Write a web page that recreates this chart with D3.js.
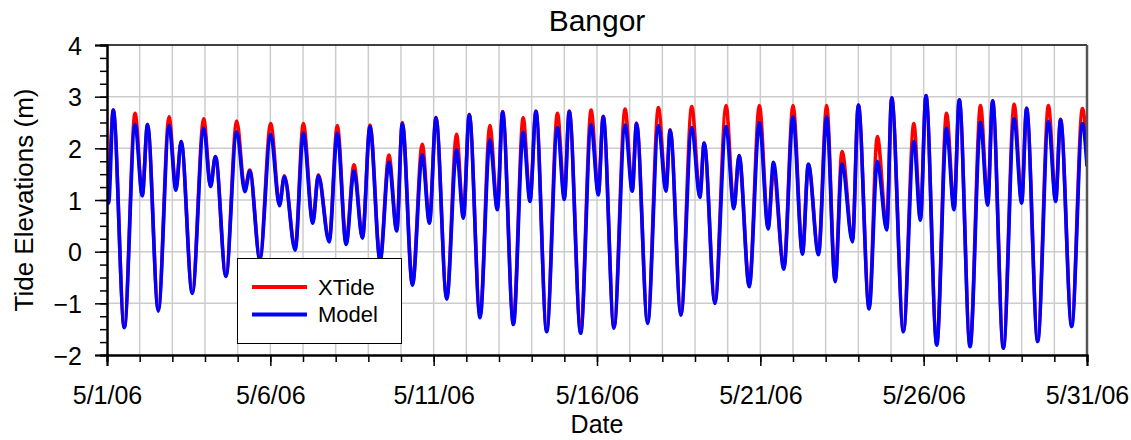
<!DOCTYPE html>
<html><head><meta charset="utf-8">
<script src="https://cdn.jsdelivr.net/npm/d3@7/dist/d3.min.js"></script>
<style>
body{margin:0;background:#fff;}
text{font-family:"Liberation Sans",Arial,sans-serif;fill:#000;}
</style></head>
<body><svg id="c" width="1131" height="440"></svg>
<script>
// Extreme points (days after 5/1/06 00:00)
const dayOffsets = [0.00,0.05,0.19,0.53,0.86,1.08,1.24,1.57,1.90,2.11,2.27,2.61,2.96,3.17,3.32,3.64,3.97,4.22,4.37,4.68,5.01,5.28,5.43,5.76,6.01,6.30,6.47,6.80,7.05,7.32,7.56,7.82,8.05,8.36,8.63,8.87,9.04,9.35,9.65,9.87,10.07,10.40,10.70,10.91,11.09,11.42,11.72,11.95,12.11,12.44,12.74,12.95,13.13,13.46,13.79,14.00,14.15,14.50,14.82,15.04,15.19,15.52,15.86,16.08,16.21,16.55,16.88,17.11,17.24,17.57,17.90,18.15,18.28,18.61,18.95,19.19,19.35,19.66,19.97,20.24,20.40,20.72,21.00,21.29,21.47,21.78,22.03,22.29,22.50,22.82,23.00,23.33,23.58,23.87,24.02,24.38,24.70,24.90,25.07,25.40,25.70,25.93,26.09,26.42,26.74,26.96,27.11,27.44,27.77,28.00,28.15,28.49,28.82,29.04,29.19,29.53,29.86,30.00];
const modelValues = [1.29,0.94,2.74,-1.47,2.46,1.08,2.46,-1.15,2.44,1.19,2.13,-0.81,2.39,1.26,1.84,-0.48,2.32,1.16,1.56,-0.15,2.27,0.89,1.45,0.03,2.29,0.55,1.47,0.19,2.29,0.14,1.56,0.26,2.42,-0.18,1.73,0.40,2.48,-0.65,1.87,0.55,2.59,-0.92,1.97,0.65,2.65,-1.28,2.16,0.81,2.70,-1.41,2.31,0.97,2.71,-1.55,2.40,1.01,2.71,-1.58,2.45,1.10,2.61,-1.48,2.45,1.17,2.48,-1.39,2.44,1.17,2.35,-1.23,2.40,1.05,2.10,-1.00,2.42,0.83,1.86,-0.68,2.50,0.44,1.73,-0.34,2.61,-0.05,1.69,-0.06,2.61,-0.58,1.70,0.19,2.84,-1.11,1.75,0.42,2.98,-1.55,2.13,0.61,3.02,-1.81,2.39,0.81,2.94,-1.84,2.50,0.90,2.92,-1.87,2.57,0.94,2.77,-1.74,2.52,0.97,2.55,-1.45,2.48,1.65];
const xtideValues = [1.62,1.45,2.74,-1.45,2.68,1.10,2.46,-1.12,2.61,1.22,2.13,-0.79,2.57,1.28,1.84,-0.47,2.53,1.20,1.58,-0.12,2.48,0.92,1.47,0.06,2.48,0.58,1.49,0.22,2.44,0.17,1.68,0.28,2.45,-0.15,1.87,0.42,2.50,-0.63,2.08,0.58,2.60,-0.90,2.27,0.68,2.66,-1.25,2.44,0.84,2.71,-1.38,2.59,1.00,2.72,-1.52,2.68,1.05,2.72,-1.55,2.74,1.14,2.62,-1.45,2.76,1.20,2.49,-1.36,2.79,1.20,2.36,-1.20,2.81,1.08,2.10,-0.97,2.83,0.86,1.86,-0.65,2.83,0.47,1.55,-0.30,2.83,-0.02,1.69,-0.02,2.83,-0.55,1.94,0.22,2.84,-1.08,2.23,0.45,2.98,-1.52,2.48,0.64,3.02,-1.78,2.68,0.84,2.94,-1.81,2.83,0.93,2.92,-1.84,2.85,0.97,2.78,-1.71,2.83,1.00,2.56,-1.42,2.77,1.90];
const seriesNames = ["XTide","Model"];
const seriesColors = ["#ff0000","#0000ff"];
const yTicks = [-2,-1,0,1,2,3,4];

const W=1131,H=440, m={l:107,t:45,r:44,b:85};
const iw=W-m.l-m.r, ih=H-m.t-m.b;
const t0 = Date.UTC(2006,4,1);
const toDate = d => new Date(t0 + d*864e5);
const FONT='"Liberation Sans",Arial,sans-serif';

const svg=d3.select("#c");
const x=d3.scaleUtc().domain([toDate(0),toDate(30)]).range([m.l,m.l+iw]);
const y=d3.scaleLinear().domain([-2,4]).range([m.t+ih,m.t]);

// grid
const g=svg.append("g");
g.selectAll("line.v").data(d3.utcDay.range(toDate(1),toDate(30))).join("line")
 .attr("x1",d=>x(d)).attr("x2",d=>x(d)).attr("y1",m.t).attr("y2",m.t+ih)
 .attr("stroke","#cccccc").attr("stroke-width",1.5);
g.selectAll("line.h").data([-1,0,1,2,3]).join("line")
 .attr("x1",m.l).attr("x2",m.l+iw).attr("y1",d=>y(d)).attr("y2",d=>y(d))
 .attr("stroke","#cccccc").attr("stroke-width",1.5);

svg.append("clipPath").attr("id","clip").append("rect")
 .attr("x",m.l).attr("y",m.t).attr("width",iw).attr("height",ih);

const line=d3.line().x(d=>x(toDate(d[0]))).y(d=>y(d[1])).curve(d3.curveMonotoneX);
const series=[xtideValues,modelValues];
series.forEach((vals,i)=>{
  svg.append("path").attr("clip-path","url(#clip)")
   .datum(dayOffsets.map((d,j)=>[d,vals[j]]))
   .attr("fill","none").attr("stroke",seriesColors[i]).attr("stroke-width",3.6)
   .attr("stroke-linejoin","round").attr("d",line);
});

// frame top/right
svg.append("line").attr("x1",m.l).attr("x2",m.l+iw).attr("y1",m.t).attr("y2",m.t).attr("stroke","#000").attr("stroke-width",1.5);
svg.append("line").attr("x1",m.l+iw).attr("x2",m.l+iw).attr("y1",m.t).attr("y2",m.t+ih).attr("stroke","#555").attr("stroke-width",2.5);

// axes
const fmt=d3.utcFormat("%-m/%-d/%y");
const xMinor=svg.append("g").attr("transform",`translate(0,${m.t+ih})`)
 .call(d3.axisBottom(x).ticks(d3.utcDay.every(1)).tickSize(7).tickFormat(""));
const xMajor=svg.append("g").attr("transform",`translate(0,${m.t+ih})`)
 .call(d3.axisBottom(x).tickValues(d3.utcDay.range(toDate(0),toDate(30.5),5)).tickSize(11).tickFormat(fmt));
const yMinor=svg.append("g").attr("transform",`translate(${m.l},0)`)
 .call(d3.axisLeft(y).tickValues(d3.range(-2,4.01,0.25)).tickSize(7).tickFormat(""));
const yMajor=svg.append("g").attr("transform",`translate(${m.l},0)`)
 .call(d3.axisLeft(y).tickValues(yTicks).tickSize(12).tickPadding(13).tickFormat(d3.format("d")));
[xMinor,xMajor,yMinor,yMajor].forEach(a=>{
  a.attr("font-size",null).attr("font-family",null);
  a.selectAll("path").attr("stroke","#000").attr("stroke-width",2);
  a.selectAll("line").attr("stroke","#000").attr("stroke-width",1.5);
  a.selectAll("text").style("font-size","25px").style("font-family",FONT);
});
xMajor.selectAll("text").attr("y",49).attr("dy",null);
yMajor.selectAll("text").attr("dy","0.36em");

// labels
svg.append("text").attr("x",m.l+iw/2).attr("y",31).attr("text-anchor","middle").style("font-size","30px").text("Bangor");
svg.append("text").attr("x",m.l+iw/2).attr("y",433).attr("text-anchor","middle").style("font-size","25px").text("Date");
svg.append("text").attr("transform",`translate(33,${m.t+ih/2}) rotate(-90)`).attr("text-anchor","middle").style("font-size","26px").text("Tide Elevations (m)");

// legend
const lg=svg.append("g");
lg.append("rect").attr("x",237.5).attr("y",258.5).attr("width",164).attr("height",85).attr("fill","#fff").attr("stroke","#000").attr("stroke-width",1);
seriesNames.forEach((n,i)=>{
  const yy=287+i*27.5;
  lg.append("line").attr("x1",252).attr("x2",307).attr("y1",yy).attr("y2",yy).attr("stroke",seriesColors[i]).attr("stroke-width",3.8);
  lg.append("text").attr("x",318).attr("y",yy).attr("dy","0.36em").style("font-size","22px").text(n);
});
</script></body></html>
